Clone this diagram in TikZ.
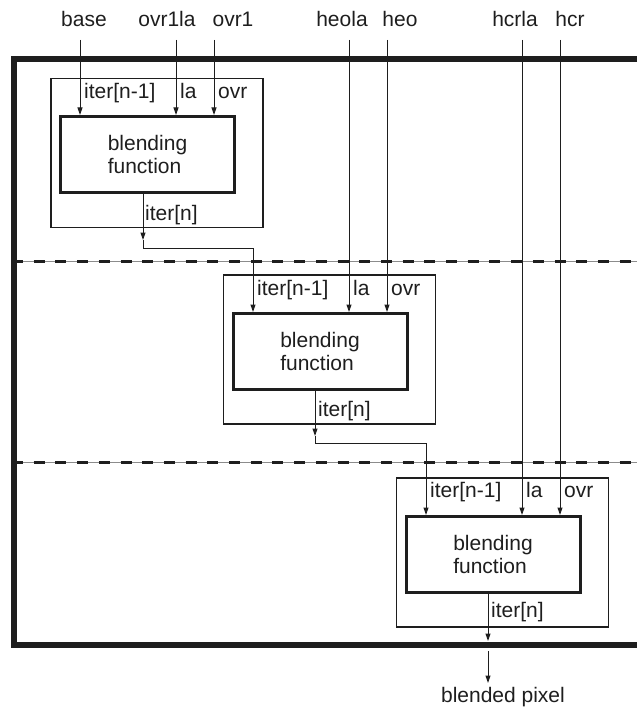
\documentclass[tikz,border=0pt]{standalone}
\usepackage{fontspec}
\setmainfont{Liberation Sans}
\usetikzlibrary{arrows.meta}
\definecolor{ink}{HTML}{1E1E1E}
\begin{document}
\begin{tikzpicture}[x=1pt,y=-1pt,
  txt/.style={font=\fontsize{21}{23.5}\selectfont, inner sep=0pt, text=ink},
  lbl/.style={txt, anchor=base west},
  toplbl/.style={txt, anchor=base},
  arr/.style={draw=ink, line width=1pt, -{Triangle[length=7.5pt,width=5pt]}},
  wire/.style={draw=ink, line width=1pt},
  modbox/.style={draw=ink, line width=1.6pt, minimum width=212pt, minimum height=149pt, inner sep=0pt},
  funbox/.style={draw=ink, line width=3pt, minimum width=174pt, minimum height=76pt, inner sep=0pt,
    align=left, font=\fontsize{21}{23.5}\selectfont, text=ink},
  frame/.style={draw=ink, line width=5.5pt, line join=miter},
  sepgray/.style={draw=black!45, line width=1pt},
  sepdash/.style={draw=ink, line width=3pt, dash pattern=on 11pt off 10.7pt}
]
\useasboundingbox (0,0) rectangle (637,711);

% outer frame
\draw[frame] (637,59) -- (14,59) -- (14,645) -- (637,645);

% dashed separators
\coordinate (s1a) at (12,261); \coordinate (s1b) at (637,261);
\coordinate (s2a) at (12,462); \coordinate (s2b) at (637,462);
\draw[sepgray] (s1a) -- (s1b);
\draw[sepdash] (s1a) -- (s1b);
\draw[sepgray] (s2a) -- (s2b);
\draw[sepdash] (s2a) -- (s2b);

% modules
\node[modbox] (o1) at (157,153) {};
\node[funbox] (b1) at (147.5,154.5) {blending\\function};
\node[modbox] (o2) at (329.5,349.5) {};
\node[funbox] (b2) at (320,351.5) {blending\\function};
\node[modbox] (o3) at (502.5,552.5) {};
\node[funbox] (b3) at (493,554.5) {blending\\function};

% top input labels
\node[toplbl] (tbase) at (84,27) {base};
\node[toplbl] (tovr1la) at (167,27) {ovr1la};
\node[toplbl] (tovr1) at (233,27) {ovr1};
\node[toplbl] (theola) at (342,27) {heola};
\node[toplbl] (theo) at (400,27) {heo};
\node[toplbl] (thcrla) at (515,27) {hcrla};
\node[toplbl] (thcr) at (570,27) {hcr};

% input start points
\coordinate (ibase) at (80,40);
\coordinate (iovr1la) at (176,40);
\coordinate (iovr1) at (214,40);
\coordinate (iheola) at (349,40);
\coordinate (iheo) at (387,40);
\coordinate (ihcrla) at (522,40);
\coordinate (ihcr) at (560,40);

\draw[arr] (ibase) -- (ibase |- b1.north);
\draw[arr] (iovr1la) -- (iovr1la |- b1.north);
\draw[arr] (iovr1) -- (iovr1 |- b1.north);
\draw[arr] (iheola) -- (iheola |- b2.north);
\draw[arr] (iheo) -- (iheo |- b2.north);
\draw[arr] (ihcrla) -- (ihcrla |- b3.north);
\draw[arr] (ihcr) -- (ihcr |- b3.north);

% chain module 1 -> 2
\coordinate (t1) at (143,240);
\coordinate (k2) at (253,248);
\draw[arr] (t1 |- b1.south) -- (t1);
\draw[arr] (t1) |- (k2) -- (k2 |- b2.north);

% chain module 2 -> 3
\coordinate (t2) at (315,436);
\coordinate (k3) at (426,443);
\draw[arr] (t2 |- b2.south) -- (t2);
\draw[arr] (t2) |- (k3) -- (k3 |- b3.north);

% output
\coordinate (t3) at (488,641);
\coordinate (u3) at (488,651);
\coordinate (v3) at (488,683);
\draw[arr] (t3 |- b3.south) -- (t3);
\draw[arr] (u3) -- (v3);
\node[toplbl] (outl) at (503,702) {blended pixel};

% port labels module 1
\node[lbl] (m1i) at (84,99) {iter[n-1]};
\node[lbl] (m1l) at (180,99) {la};
\node[lbl] (m1o) at (218,99) {ovr};
\node[lbl] (m1n) at (145,220) {iter[n]};
% module 2
\node[lbl] (m2i) at (257,295) {iter[n-1]};
\node[lbl] (m2l) at (353,295) {la};
\node[lbl] (m2o) at (391,295) {ovr};
\node[lbl] (m2n) at (318,416) {iter[n]};
% module 3
\node[lbl] (m3i) at (430,497) {iter[n-1]};
\node[lbl] (m3l) at (526,497) {la};
\node[lbl] (m3o) at (564,497) {ovr};
\node[lbl] (m3n) at (491,617) {iter[n]};
\end{tikzpicture}
\end{document}
